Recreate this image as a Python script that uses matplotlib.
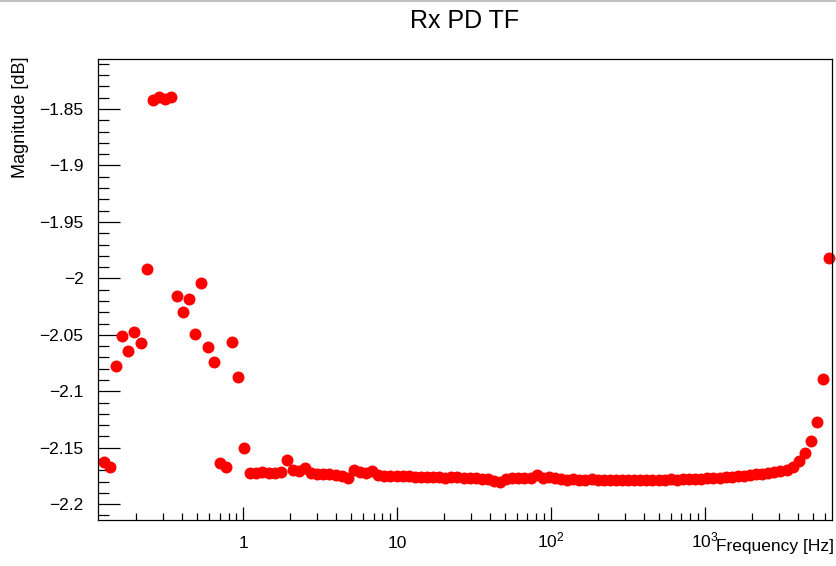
##########################################
#   Rx PD transfer function (magnitude)  #
##########################################

import matplotlib
matplotlib.use("Agg")
import matplotlib.pyplot as plt
from matplotlib.ticker import FixedLocator, FixedFormatter, LogLocator, MultipleLocator, NullFormatter
from matplotlib.lines import Line2D

# Sweep frequencies [Hz]
freq_hz = [
    0.1240, 0.1358, 0.1488, 0.1630, 0.1786, 0.1956, 0.2143, 0.2347, 0.2572, 0.2817,
    0.3086, 0.3381, 0.3704, 0.4057, 0.4444, 0.4869, 0.5333, 0.5843, 0.6400, 0.7011,
    0.7681, 0.8414, 0.9217, 1.010, 1.106, 1.212, 1.327, 1.454, 1.593, 1.745,
    1.912, 2.094, 2.294, 2.513, 2.753, 3.016, 3.304, 3.619, 3.965, 4.343,
    4.758, 5.212, 5.709, 6.255, 6.852, 7.506, 8.222, 9.007, 9.867, 10.81,
    11.84, 12.97, 14.21, 15.57, 17.05, 18.68, 20.46, 22.42, 24.56, 26.90,
    29.47, 32.29, 35.37, 38.74, 42.44, 46.50, 50.93, 55.80, 61.12, 66.96,
    73.35, 80.35, 88.02, 96.43, 105.6, 115.7, 126.8, 138.9, 152.1, 166.7,
    182.6, 200.0, 219.1, 240.0, 262.9, 288.0, 315.5, 345.6, 378.6, 414.8,
    454.4, 497.7, 545.3, 597.3, 654.3, 716.8, 785.2, 860.2, 942.3, 1032,
    1131, 1239, 1357, 1487, 1629, 1784, 1954, 2141, 2345, 2569,
    2815, 3083, 3378, 3700, 4053, 4440, 4864, 5329, 5837, 6394,
]

# Magnitude [dB]
mag_db = [
    -2.1625, -2.1675, -2.0777, -2.0509, -2.0644, -2.0473, -2.0571, -1.9915, -1.8423, -1.8391,
    -1.8414, -1.8396, -2.0154, -2.0299, -2.0186, -2.0496, -2.0039, -2.0609, -2.0739, -2.1639,
    -2.1675, -2.0562, -2.0877, -2.1501, -2.1721, -2.1721, -2.1716, -2.1721, -2.1721, -2.1716,
    -2.1610, -2.1699, -2.1703, -2.1681, -2.1725, -2.1730, -2.1734, -2.1734, -2.1743, -2.1747,
    -2.1765, -2.1694, -2.1712, -2.1721, -2.1708, -2.1743, -2.1747, -2.1747, -2.1752, -2.1752,
    -2.1752, -2.1756, -2.1756, -2.1756, -2.1761, -2.1761, -2.1765, -2.1761, -2.1756, -2.1765,
    -2.1770, -2.1770, -2.1774, -2.1774, -2.1796, -2.1801, -2.1774, -2.1765, -2.1765, -2.1765,
    -2.1770, -2.1739, -2.1765, -2.1761, -2.1770, -2.1778, -2.1783, -2.1778, -2.1783, -2.1783,
    -2.1778, -2.1783, -2.1783, -2.1787, -2.1783, -2.1783, -2.1787, -2.1783, -2.1783, -2.1783,
    -2.1787, -2.1783, -2.1783, -2.1780, -2.1783, -2.1778, -2.1778, -2.1778, -2.1775, -2.1772,
    -2.1770, -2.1766, -2.1761, -2.1757, -2.1752, -2.1746, -2.1741, -2.1736, -2.1730, -2.1724,
    -2.1716, -2.1708, -2.1694, -2.1668, -2.1617, -2.1548, -2.1444, -2.1276, -2.0895, -1.9820,
]

# Axis ticks
x_ticks = [1, 10, 100, 1000]
x_tick_labels = ["1", "10", "$10^{2}$", "$10^{3}$"]
y_ticks = [-2.2, -2.15, -2.1, -2.05, -2.0, -1.95, -1.9, -1.85]
y_tick_labels = ["\u22122.2", "\u22122.15", "\u22122.1", "\u22122.05", "\u22122",
                 "\u22121.95", "\u22121.9", "\u22121.85"]

# ROOT-ish look
plt.rcParams["font.family"] = ["Liberation Sans", "DejaVu Sans"]
plt.rcParams["mathtext.fontset"] = "custom"
plt.rcParams["mathtext.rm"] = "Liberation Sans"
plt.rcParams["mathtext.it"] = "Liberation Sans"

fig = plt.figure(figsize=(8.36, 5.66), dpi=100)
ax = fig.add_axes([98 / 836, 46 / 566, (831.7 - 98) / 836, (520 - 59) / 566])

# Data points
ax.plot(freq_hz, mag_db, linestyle="none", marker="o", markersize=8.6,
        color="#ff0000", markeredgewidth=0, clip_on=False)

# Axes ranges
ax.set_xscale("log")
ax.set_xlim(0.1134, 6637)
ax.set_ylim(-2.2140, -1.8057)

# X ticks
ax.xaxis.set_major_locator(FixedLocator(x_ticks))
ax.xaxis.set_major_formatter(FixedFormatter(x_tick_labels))
ax.xaxis.set_minor_locator(LogLocator(base=10, subs=range(2, 10), numticks=20))
ax.xaxis.set_minor_formatter(NullFormatter())

# Y ticks
ax.yaxis.set_major_locator(FixedLocator(y_ticks))
ax.yaxis.set_major_formatter(FixedFormatter(y_tick_labels))
ax.yaxis.set_minor_locator(MultipleLocator(0.01))

ax.tick_params(axis="x", which="major", direction="in", length=9.4, width=0.9,
               labelsize=12.5, pad=20, top=False)
ax.tick_params(axis="x", which="minor", direction="in", length=4.7, width=0.9, top=False)
ax.tick_params(axis="y", which="major", direction="in", length=15.8, width=0.9,
               labelsize=12.5, pad=10.5, right=False)
ax.tick_params(axis="y", which="minor", direction="in", length=7.9, width=0.9, right=False)
plt.setp(ax.get_xticklabels(), va="baseline")

for spine in ax.spines.values():
    spine.set_linewidth(0.9)

# Title and axis titles
fig.text(465 / 836, 1 - 21 / 566, "Rx PD TF", ha="center", va="center", fontsize=18)
fig.text(834 / 836, 1 - 551 / 566, "Frequency [Hz]", ha="right", va="baseline", fontsize=12.5)
fig.text(21 / 836, 1 - 57 / 566, "Magnitude [dB]", ha="center", va="top",
         rotation=90, fontsize=13)

# Grey border line at the top of the canvas
fig.add_artist(Line2D([0, 1], [0.998, 0.998], transform=fig.transFigure,
                      color="#c0c0c0", linewidth=1.5))

plt.savefig("out.png", dpi=100)
print("Saved plot")
